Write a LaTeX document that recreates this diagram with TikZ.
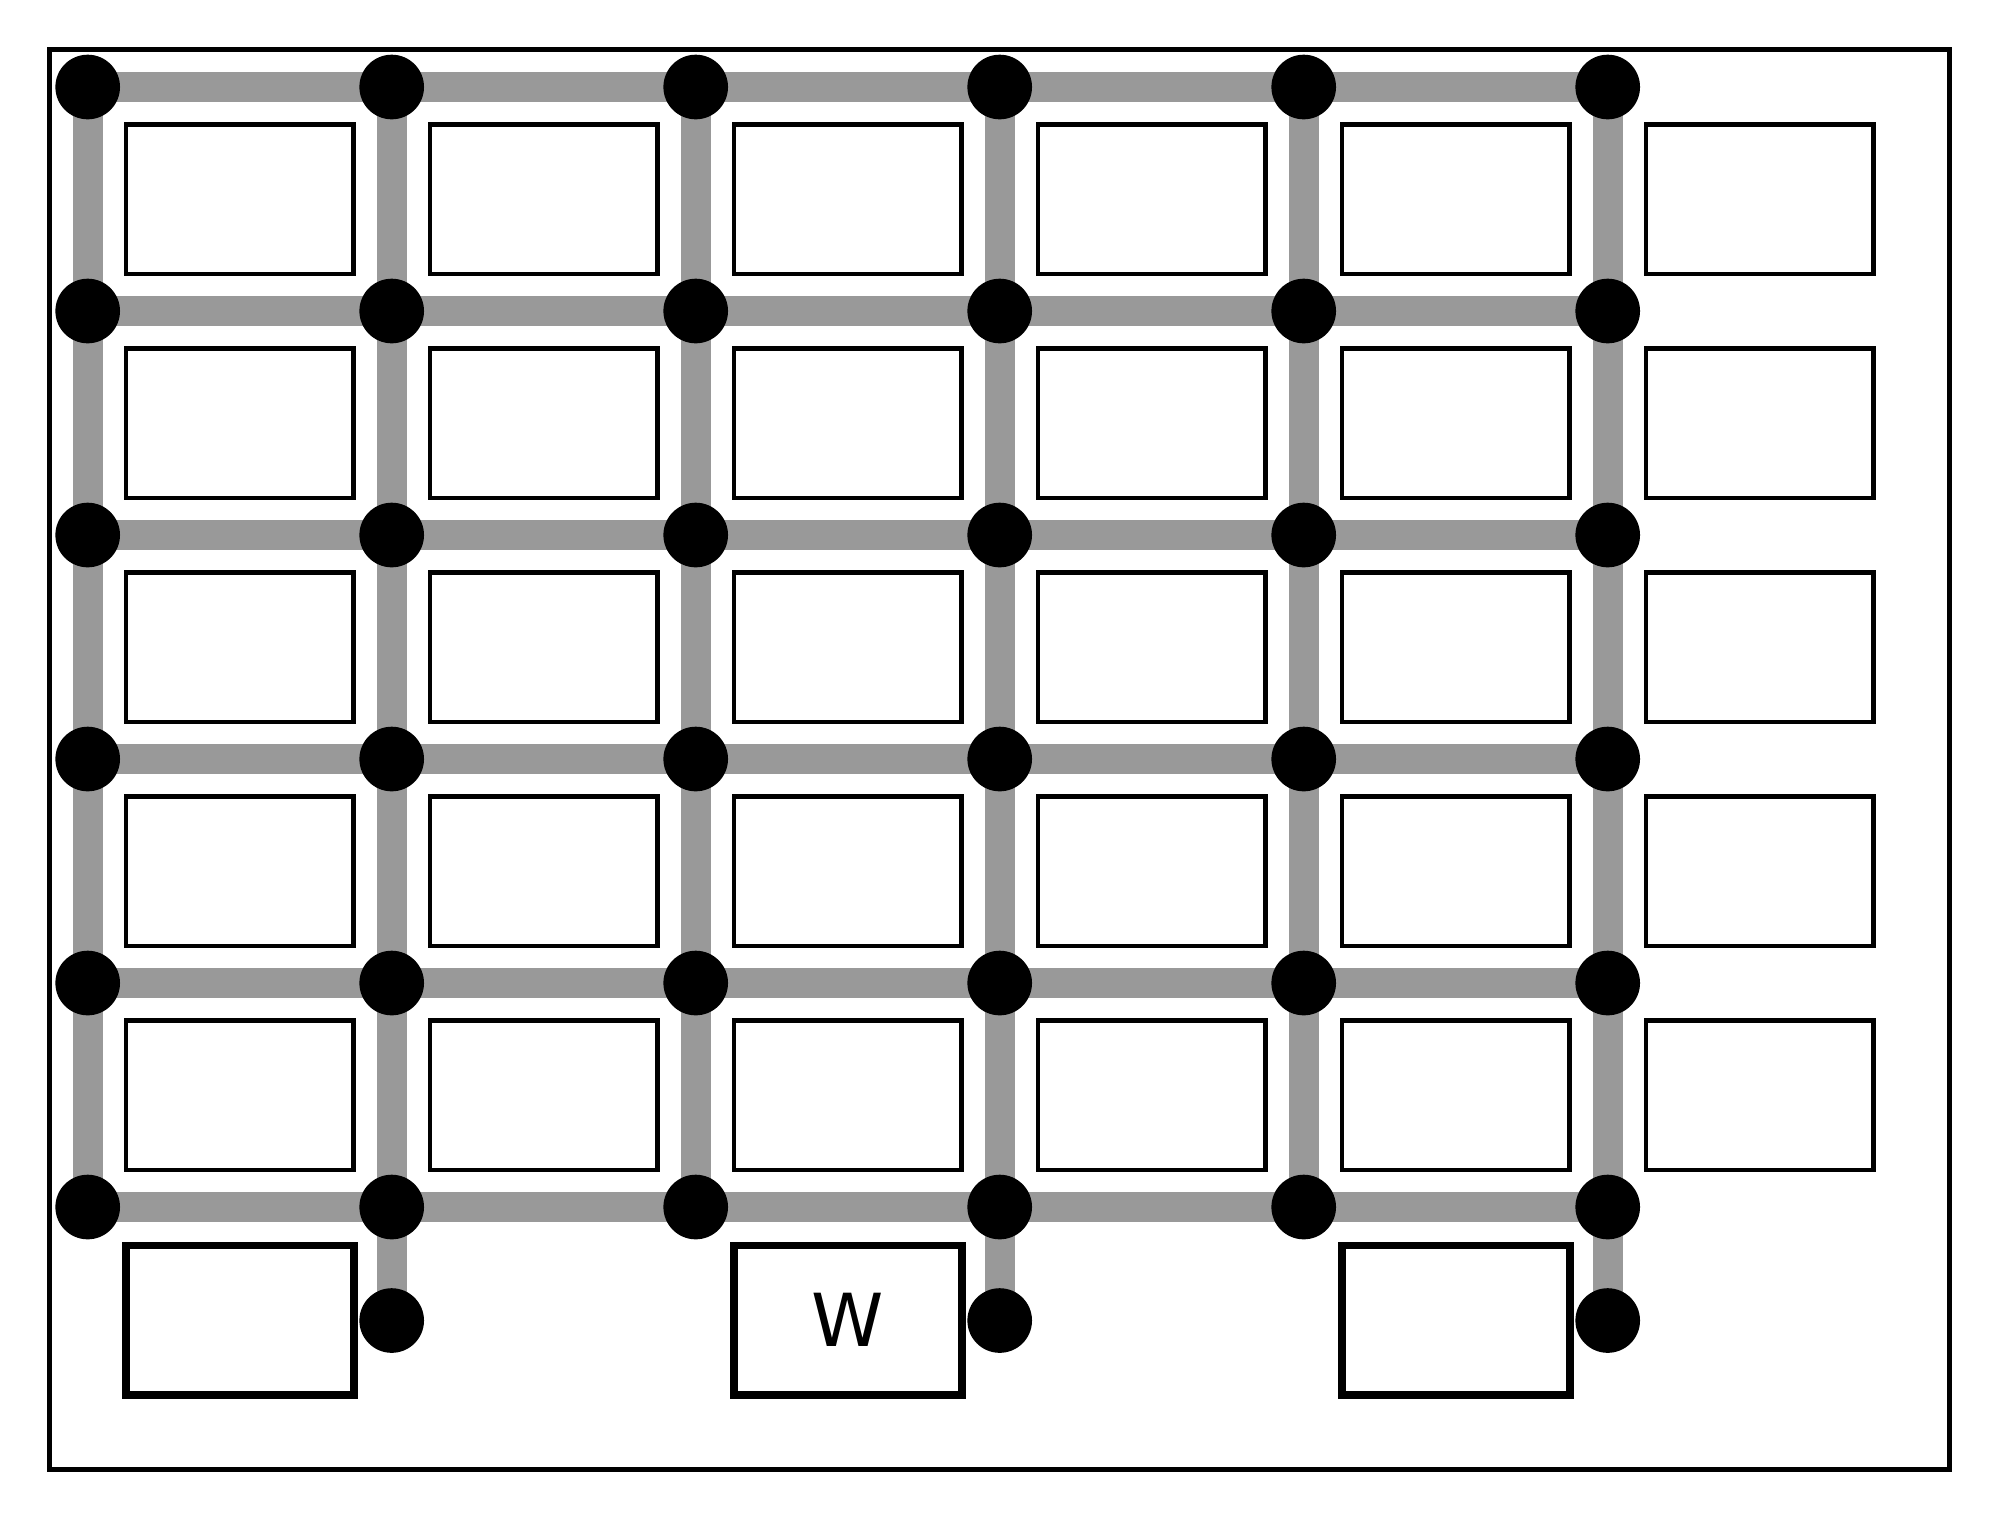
\documentclass[tikz,border=0pt]{standalone}
\usepackage{fontspec}
\setmainfont{DejaVu Sans}
\definecolor{wiregray}{RGB}{153,153,153}
\pgfdeclarelayer{bg}
\pgfsetlayers{bg,main}
\begin{document}
\begin{tikzpicture}[x=0.01cm,y=-0.01cm,
 dot/.style={circle,fill=black,inner sep=0,minimum size=0.646cm},
 cell/.style={rectangle,draw=black,line width=1.33pt,inner sep=0,minimum width=2.274cm,minimum height=1.49cm},
 bigcell/.style={cell,line width=2.2pt,minimum width=2.28cm,minimum height=1.495cm,font=\fontsize{20.8}{25}\selectfont},
 wire/.style={draw=wiregray,line width=0.3cm}]
\useasboundingbox (0,0) rectangle (2000,1520);
\draw[line width=1.33pt] (49.7,49.7) rectangle (1949.7,1469.7);
% grid dots
\foreach \i in {0,...,5}
  \foreach \j in {0,...,5}
    \node[dot] (d-\i-\j) at ({87.7+304*\i},{87+224*\j}) {};
% extra bottom dots
\foreach \i in {1,3,5}
  \node[dot] (e-\i) at ({87.7+304*\i},1320.5) {};
% cells
\foreach \i in {0,...,5}
  \foreach \j in {0,...,4}
    \node[cell] (c-\i-\j) at ({239.7+304*\i},{199.3+224*\j}) {};
% bottom cells
\node[bigcell] (b-0) at (240,1320.3) {};
\node[bigcell] (b-2) at (848,1320.3) {W};
\node[bigcell] (b-4) at (1456,1320.3) {};
% wires
\begin{pgfonlayer}{bg}
\foreach \j in {0,...,5}{
  \foreach \i in {0,...,4}{
    \pgfmathtruncatemacro{\nxt}{\i+1}
    \draw[wire] (d-\i-\j.center) -- (d-\nxt-\j.center);
  }
}
\foreach \i in {0,...,5}{
  \foreach \j in {0,...,4}{
    \pgfmathtruncatemacro{\nxt}{\j+1}
    \draw[wire] (d-\i-\j.center) -- (d-\i-\nxt.center);
  }
}
\foreach \i in {1,3,5}
  \draw[wire] (d-\i-5.center) -- (e-\i.center);
\end{pgfonlayer}
\end{tikzpicture}
\end{document}
